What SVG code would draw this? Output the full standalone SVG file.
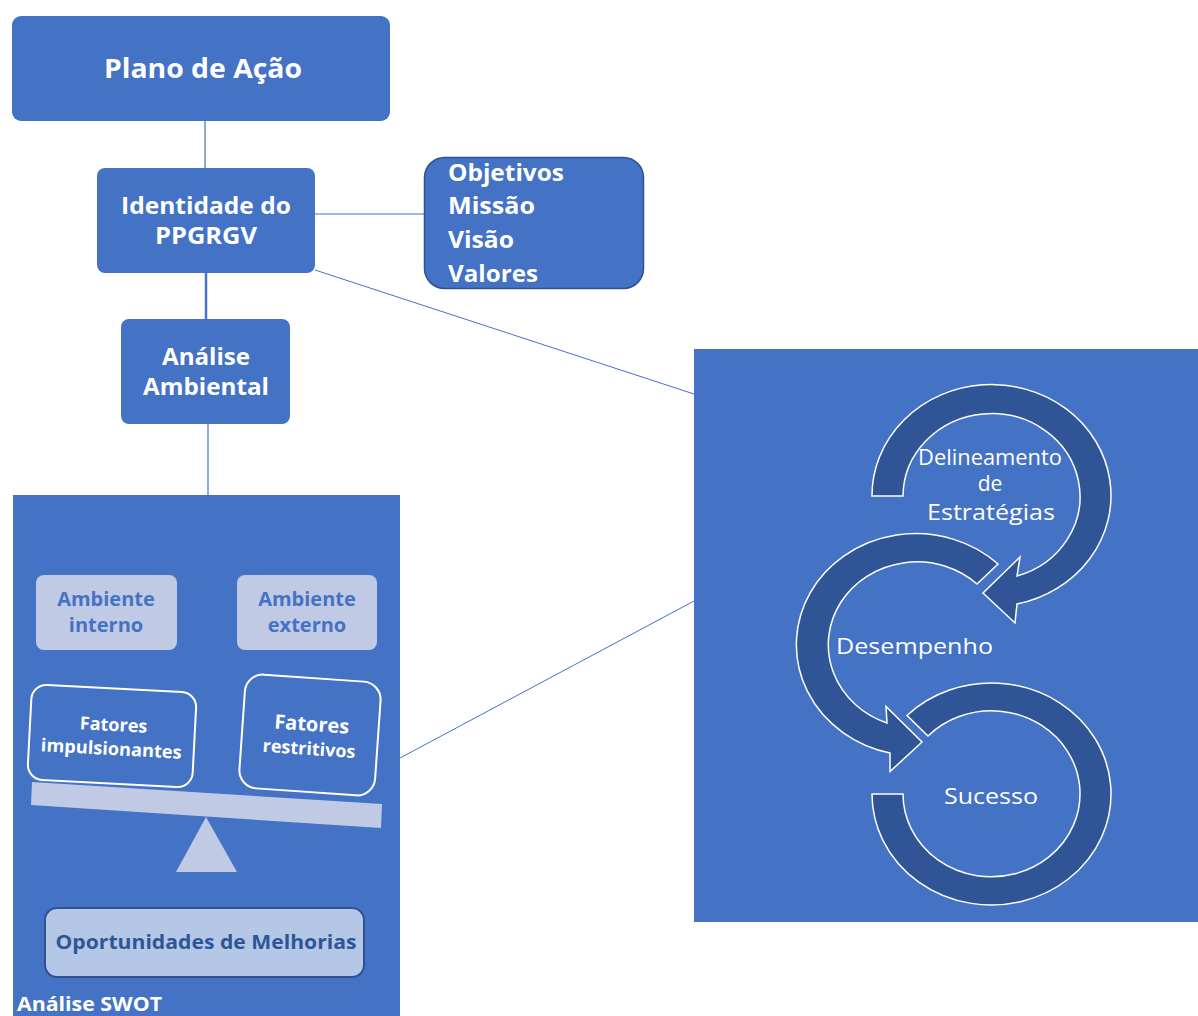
<svg xmlns="http://www.w3.org/2000/svg" width="1198" height="1016" viewBox="0 0 1198 1016">
<style>
.node{fill:#4472C4}
.wt{fill:#FFFFFF;font-family:"Open Sans","Noto Sans",sans-serif;font-weight:bold}
.lt{fill:#C1CAE4}
.bt{fill:#4472C4;font-family:"Open Sans","Noto Sans",sans-serif;font-weight:bold;font-size:20px}
.conn{stroke:#4472C4;fill:none}
.arc{fill:#2F5597;stroke:#FFFFFF;stroke-width:1.5}
.at{fill:#FFFFFF;font-family:"Open Sans","Noto Sans",sans-serif;font-size:21px}
.fat{fill:#4472C4;stroke:#FFFFFF;stroke-width:2}
</style>
<rect width="1198" height="1016" fill="#FFFFFF"/>
<g id="connectors">
<line class="conn" x1="205" y1="121" x2="205" y2="168" stroke-width="1.2"/>
<line class="conn" x1="315" y1="214" x2="424" y2="214" stroke-width="1.2"/>
<line class="conn" x1="206" y1="273" x2="206" y2="319" stroke-width="2.5"/>
<line class="conn" x1="208" y1="424" x2="208" y2="495" stroke-width="1.2"/>
<line class="conn" x1="315" y1="270" x2="694" y2="394" stroke-width="1"/>
<line class="conn" x1="400" y1="758" x2="694" y2="601" stroke-width="1"/>
</g>
<g id="plano">
<rect class="node" x="12" y="16" width="378" height="105" rx="9"/>
<text class="wt" x="203" y="78" font-size="26" text-anchor="middle" textLength="198" lengthAdjust="spacingAndGlyphs">Plano de Ação</text>
</g>
<g id="identidade">
<rect class="node" x="97" y="168" width="218" height="105" rx="8"/>
<text class="wt" x="206" y="214" font-size="23" text-anchor="middle" textLength="170" lengthAdjust="spacingAndGlyphs">Identidade do</text>
<text class="wt" x="206" y="244" font-size="23" text-anchor="middle" textLength="102" lengthAdjust="spacingAndGlyphs">PPGRGV</text>
</g>
<g id="objetivos">
<rect x="424.5" y="157.5" width="219" height="131" rx="20" fill="#4472C4" stroke="#2F528F" stroke-width="1.5"/>
<text class="wt" x="448" y="181" font-size="23" textLength="116" lengthAdjust="spacingAndGlyphs">Objetivos</text>
<text class="wt" x="448" y="214" font-size="23" textLength="87" lengthAdjust="spacingAndGlyphs">Missão</text>
<text class="wt" x="448" y="248" font-size="23" textLength="66" lengthAdjust="spacingAndGlyphs">Visão</text>
<text class="wt" x="448" y="282" font-size="23" textLength="90" lengthAdjust="spacingAndGlyphs">Valores</text>
</g>
<g id="analise">
<rect class="node" x="121" y="319" width="169" height="105" rx="8"/>
<text class="wt" x="206" y="365" font-size="23" text-anchor="middle" textLength="88" lengthAdjust="spacingAndGlyphs">Análise</text>
<text class="wt" x="206" y="395" font-size="23" text-anchor="middle" textLength="126" lengthAdjust="spacingAndGlyphs">Ambiental</text>
</g>
<g id="swot">
<rect class="node" x="13" y="495" width="387" height="521"/>
<rect class="lt" x="36" y="575" width="141" height="75" rx="8"/>
<text class="bt" x="106" y="606" text-anchor="middle">Ambiente</text>
<text class="bt" x="106" y="632" text-anchor="middle">interno</text>
<rect class="lt" x="237" y="575" width="140" height="75" rx="8"/>
<text class="bt" x="307" y="606" text-anchor="middle">Ambiente</text>
<text class="bt" x="307" y="632" text-anchor="middle">externo</text>
<g transform="rotate(3 112 736)">
<rect class="fat" x="29.5" y="688.5" width="165" height="95" rx="15"/>
<text class="wt" x="113" y="731" font-size="18" text-anchor="middle">Fatores</text>
<text class="wt" x="112" y="755" font-size="18" text-anchor="middle" textLength="141" lengthAdjust="spacingAndGlyphs">impulsionantes</text>
</g>
<g transform="rotate(4 310 735)">
<rect class="fat" x="242" y="678" width="136" height="114" rx="18"/>
<text class="wt" x="311" y="731" font-size="20" text-anchor="middle">Fatores</text>
<text class="wt" x="310" y="755" font-size="18" text-anchor="middle">restritivos</text>
</g>
<polygon class="lt" points="32,782 382,804 381,828 31,805"/>
<polygon class="lt" points="176,872 206,817 237,872"/>
<rect x="45" y="908" width="319" height="69" rx="12" fill="#B4C7E7" stroke="#2F528F" stroke-width="2"/>
<text x="206" y="949" font-family="Open Sans, Noto Sans, sans-serif" font-weight="bold" font-size="20" fill="#2F5597" text-anchor="middle" textLength="301" lengthAdjust="spacingAndGlyphs">Oportunidades de Melhorias</text>
<text class="wt" x="17" y="1011" font-size="19" textLength="145" lengthAdjust="spacingAndGlyphs">Análise SWOT</text>
</g>
<g id="ciclo">
<rect class="node" x="694" y="349" width="504" height="573"/>
<path class="arc" d="M907,715.5 A119.5,111 0 1 1 872,794 L903,794 A88.5,83 0 1 0 928,736 Z"/>
<path class="arc" d="M998,564 A119.5,111 0 1 0 890,753 L890,771.6 L922,742 L886,706.5 L887,723 A88.5,83 0 1 1 977,584 Z"/>
<path class="arc" d="M872,496 A119.5,111 0 1 1 1017,604 L1015,623 L983,593 L1020,557 L1017,576 A88.5,83 0 1 0 903,496 Z"/>
<text class="at" x="990" y="465" text-anchor="middle" font-size="20" textLength="144" lengthAdjust="spacingAndGlyphs">Delineamento</text>
<text class="at" x="990" y="491" text-anchor="middle" font-size="20">de</text>
<text class="at" x="991" y="520" text-anchor="middle" textLength="128" lengthAdjust="spacingAndGlyphs">Estratégias</text>
<text class="at" x="836" y="654" textLength="157" lengthAdjust="spacingAndGlyphs">Desempenho</text>
<text class="at" x="991" y="804" text-anchor="middle" textLength="94" lengthAdjust="spacingAndGlyphs">Sucesso</text>
</g>
</svg>
